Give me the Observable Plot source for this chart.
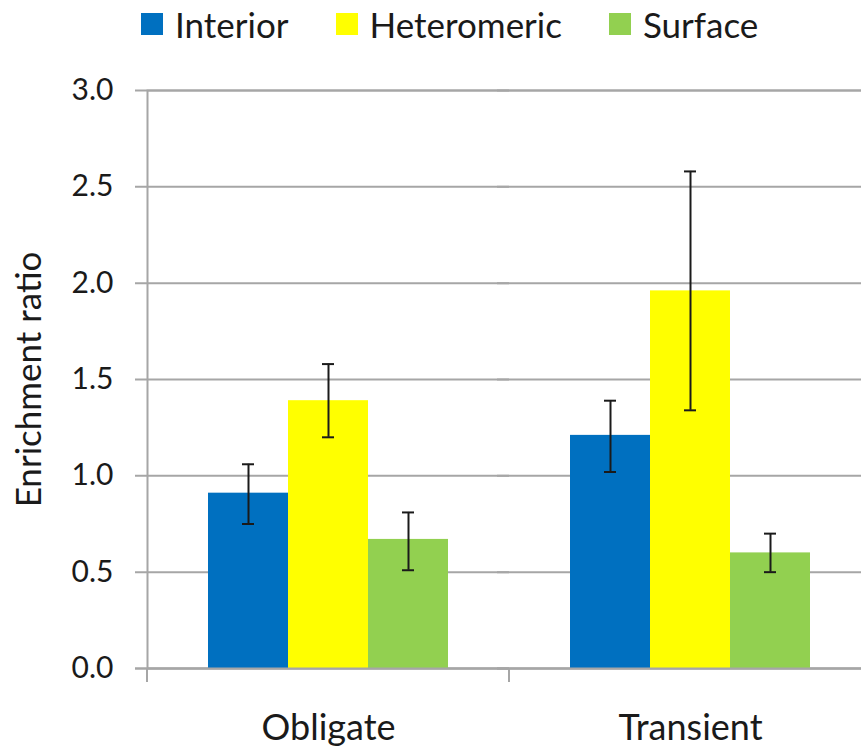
<!DOCTYPE html>
<html>
<head>
<meta charset="utf-8">
<script src="https://cdn.jsdelivr.net/npm/d3@7"></script>
<script src="https://cdn.jsdelivr.net/npm/@observablehq/plot@0.6"></script>
<style>
  html, body { margin: 0; padding: 0; background: #fff; overflow: hidden; }
  body { width: 861px; height: 750px; font-family: Lato, sans-serif; color: #1a1a1a; }
  #legend { display: flex; align-items: center; height: 48px; padding-left: 141px; font-size: 35px; line-height: 1; }
  #legend .item { display: flex; align-items: center; margin-right: 47px; }
  #legend .swatch { width: 22px; height: 22px; margin-right: 12px; }
  #chart svg { display: block; max-width: none; }
</style>
</head>
<body>
<div id="legend"></div>
<div id="chart"></div>
<script>
// Interaction types and residue classes
const categories = ["Obligate", "Transient"];
const series = ["Interior", "Heteromeric", "Surface"];
const colors = ["#0070C0", "#FFFF00", "#92D050"];
const yLabel = "Enrichment ratio";

// Mean enrichment ratio, one array per residue class (Obligate, Transient)
const interior = [0.91, 1.21];
const heteromeric = [1.39, 1.96];
const surface = [0.67, 0.60];

// Error bar bounds (low, high) per class
const interiorLow = [0.75, 1.02];
const interiorHigh = [1.06, 1.39];
const heteromericLow = [1.20, 1.34];
const heteromericHigh = [1.58, 2.58];
const surfaceLow = [0.51, 0.50];
const surfaceHigh = [0.81, 0.70];

const yTicks = [0, 0.5, 1.0, 1.5, 2.0, 2.5, 3.0];

const means = [interior, heteromeric, surface];
const lows = [interiorLow, heteromericLow, surfaceLow];
const highs = [interiorHigh, heteromericHigh, surfaceHigh];

const table = [];
categories.forEach((category, ci) => {
  series.forEach((s, si) => {
    table.push({category, series: s, value: means[si][ci], low: lows[si][ci], high: highs[si][ci]});
  });
});

// Legend
const legend = d3.select("#legend");
series.forEach((s, i) => {
  const item = legend.append("div").attr("class", "item");
  item.append("div").attr("class", "swatch").style("background", colors[i]);
  item.append("span").text(s);
});

const axisGray = "#a6a6a6";

// Short ticks below the category axis at both edges of each facet
function categoryTicks(index, scales, values, dimensions) {
  const {fx} = scales;
  const {height, marginBottom, marginLeft} = dimensions;
  const bottom = height - marginBottom;
  const g = d3.create("svg:g").attr("stroke", axisGray).attr("stroke-width", 2);
  for (const xe of [marginLeft, marginLeft + fx.bandwidth()]) {
    g.append("line").attr("x1", xe).attr("x2", xe).attr("y1", bottom).attr("y2", bottom + 14);
  }
  return g.node();
}

const chart = Plot.plot({
  width: 871,
  height: 702,
  marginTop: 42,
  marginBottom: 82,
  marginLeft: 147,
  marginRight: 0,
  style: {fontFamily: "Lato, sans-serif", fontSize: "30px", color: "#1a1a1a", background: "#fff", overflow: "visible"},
  fx: {domain: categories, padding: 0, label: null, tickSize: 0, tickPadding: 46, axis: "bottom"},
  x: {domain: series, paddingInner: 0, paddingOuter: 0.75, axis: null},
  y: {
    domain: [0, 3],
    ticks: yTicks,
    tickFormat: d3.format(".1f"),
    tickSize: 0,
    tickPadding: 34,
    label: yLabel,
    labelAnchor: "center",
    labelArrow: false,
    labelOffset: 131
  },
  color: {domain: series, range: colors},
  marks: [
    Plot.ruleY(yTicks, {stroke: axisGray, strokeWidth: 2, insetLeft: -12}),
    Plot.frame({facet: "super", stroke: axisGray, strokeWidth: 2}),
    Plot.barY(table, {fx: "category", x: "series", y: "value", fill: "series"}),
    Plot.ruleY([0], {stroke: axisGray, strokeWidth: 2, insetLeft: -12}),
    Plot.ruleX(table, {fx: "category", x: "series", y1: "low", y2: "high", stroke: "#1a1a1a", strokeWidth: 2}),
    Plot.tickY(table, {fx: "category", x: "series", y: "low", stroke: "#1a1a1a", strokeWidth: 2, insetLeft: 34, insetRight: 34}),
    Plot.tickY(table, {fx: "category", x: "series", y: "high", stroke: "#1a1a1a", strokeWidth: 2, insetLeft: 34, insetRight: 34}),
    categoryTicks
  ]
});
// Text colour and the larger sizes of the axis title and category labels
chart.querySelectorAll("text").forEach((t) => {
  t.setAttribute("fill", "#1a1a1a");
  const s = t.textContent.trim();
  if (s.includes("Enrichment")) t.style.fontSize = "35px";
  if (categories.includes(s)) t.style.fontSize = "36px";
});
document.getElementById("chart").append(chart);
</script>
</body>
</html>
